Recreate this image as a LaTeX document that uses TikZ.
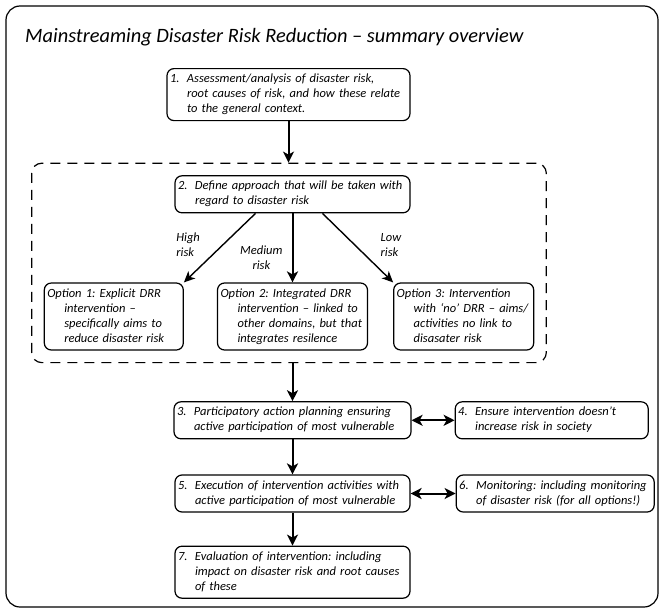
\documentclass[tikz,border=0pt]{standalone}
\usepackage{fontspec}
\setmainfont{Carlito}
\frenchspacing
\usetikzlibrary{arrows.meta, positioning, fit}
\newcommand{\steptab}[1]{\begin{tabular}{@{}p{17pt}@{}l@{}}#1\end{tabular}}
\tikzset{
  box/.style={
    draw=black,
    rounded corners=7pt,
    line width=1.2pt,
    align=left,
    inner xsep=3pt,
    inner ysep=3.5pt,
    font=\fontsize{12.5}{15}\selectfont\itshape
  },
  stepbox/.style={
    box
  },
  optbox/.style={
    box
  },
  groupbox/.style={
    draw=black,
    dash pattern=on 10pt off 7pt,
    rounded corners=10pt,
    line width=1.2pt,
    inner sep=12pt
  },
  risk/.style={
    font=\fontsize{12.5}{15}\selectfont\itshape,
    inner sep=0pt,
    align=left
  },
  titletext/.style={
    font=\fontsize{20.4}{24}\selectfont\itshape,
    inner sep=0pt
  },
  frame/.style={
    draw=black,
    line width=1.2pt,
    rounded corners=14pt
  },
  arrow/.style={
    -{Stealth[length=11pt, width=11pt, inset=3pt]},
    line width=2pt,
    draw=black
  },
  softarrow/.style={
    -{Stealth[length=11pt, width=10pt, inset=3pt]},
    line width=1.4pt,
    draw=black
  },
  twoway/.style={
    {Stealth[length=11pt, width=11pt, inset=3pt]}-{Stealth[length=11pt, width=11pt, inset=3pt]},
    line width=2pt,
    draw=black
  }
}
\begin{document}
\begin{tikzpicture}[x=1pt, y=1pt]

\useasboundingbox (0,0) rectangle (661,-613);
\draw[frame] (6,-6) rectangle (658,-607);

\node[titletext, anchor=base west] (title) at (25,-42) {Mainstreaming Disaster Risk Reduction – summary overview};

\node[stepbox, text width=237pt, anchor=north] (assess) at (288.5,-68) {\steptab{
  1.&Assessment/analysis of disaster risk,\\
  &root causes of risk, and how these relate\\
  &to the general context.}};

\node[stepbox, below=54pt of assess, xshift=4pt, text width=229pt] (define) {\steptab{
  2.&Define approach that will be taken with\\
  &regard to disaster risk}};

\node[optbox, below=69pt of define, text width=144pt] (opt2) {\steptab{
  \multicolumn{2}{@{}l@{}}{Option 2: Integrated DRR}\\
  &intervention – linked to\\
  &other domains, but that\\
  &integrates resilence}};

\node[optbox, left=33pt of opt2, text width=133pt] (opt1) {\steptab{
  \multicolumn{2}{@{}l@{}}{Option 1: Explicit DRR}\\
  &intervention –\\
  &specifically aims to\\
  &reduce disaster risk}};

\node[optbox, right=25pt of opt2, text width=134pt] (opt3) {\steptab{
  \multicolumn{2}{@{}l@{}}{Option 3: Intervention}\\
  &with ‘no’ DRR – aims/\\
  &activities no link to\\
  &disasater risk}};

\node[groupbox, fit=(define)(opt1)(opt3)] (group) {};

\node[stepbox, below=38pt of group, xshift=3.5pt, text width=231pt] (plan) {\steptab{
  3.&Participatory action planning ensuring\\
  &active participation of most vulnerable}};

\node[stepbox, right=43pt of plan, text width=187pt] (ensure) {\steptab{
  4.&Ensure intervention doesn’t\\
  &increase risk in society}};

\node[stepbox, below=35pt of plan, text width=229pt] (execute) {\steptab{
  5.&Execution of intervention activities with\\
  &active participation of most vulnerable}};

\node[stepbox, right=45pt of execute, text width=192pt] (monitor) {\steptab{
  6.&Monitoring: including monitoring\\
  &of disaster risk (for all options!)}};

\node[stepbox, below=33pt of execute, text width=229pt] (evaluate) {\steptab{
  7.&Evaluation of intervention: including\\
  &impact on disaster risk and root causes\\
  &of these}};

\draw[arrow] (assess.south) -- (assess.south |- group.north);
\draw[softarrow] ([xshift=-37pt]define.south) -- node[risk, pos=0.46, left=22pt] {High\\risk} (opt1.north east);
\draw[arrow] (define.south -| opt2.north) -- node[risk, align=center, pos=0.64, left=9pt] {Medium\\risk} (opt2.north);
\draw[softarrow] ([xshift=30pt]define.south) -- node[risk, pos=0.46, right=25pt] {Low\\risk} (opt3.north west);
\draw[arrow] (plan.north |- group.south) -- (plan.north);
\draw[twoway] (plan) -- (ensure);
\draw[arrow] (plan) -- (execute);
\draw[twoway] (execute) -- (monitor);
\draw[arrow] (execute) -- (evaluate);

\end{tikzpicture}
\end{document}
